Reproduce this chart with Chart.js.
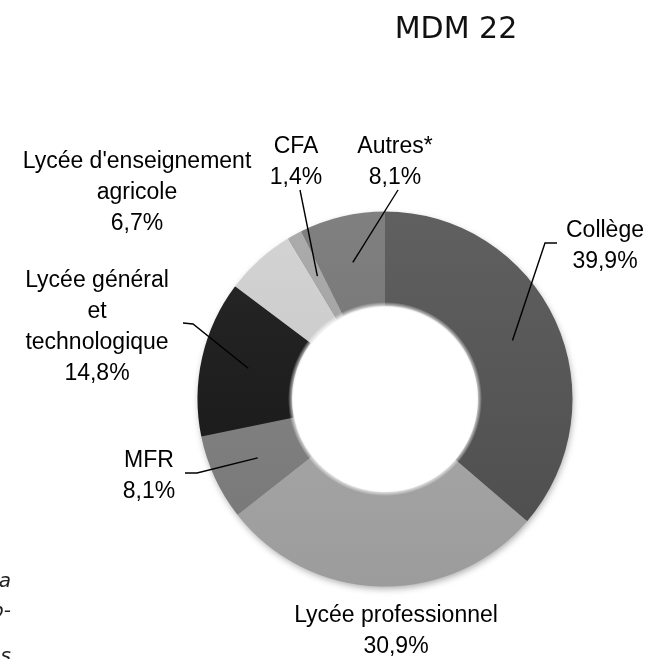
<!DOCTYPE html>
<html>
<head>
<meta charset="utf-8">
<script src="https://cdn.jsdelivr.net/npm/chart.js@4.4.0/dist/chart.umd.min.js"></script>
<style>
  html, body { margin: 0; padding: 0; background: #ffffff; }
  #wrap { width: 651px; height: 659px; position: relative; overflow: hidden; }
  canvas { display: block; }
</style>
</head>
<body>
<div id="wrap"><canvas id="c" width="651" height="659"></canvas></div>
<script>
// ---- data ----
const chartTitle = 'MDM 22';
const categories = ['Collège', 'Lycée professionnel', 'MFR', 'Lycée général et technologique', "Lycée d'enseignement agricole", 'CFA', 'Autres*'];
const values = [39.9, 30.9, 8.1, 14.8, 6.7, 1.4, 8.1];
const valueLabels = ['39,9%', '30,9%', '8,1%', '14,8%', '6,7%', '1,4%', '8,1%'];
const labelLines = [['Collège'], ['Lycée professionnel'], ['MFR'], ['Lycée général', 'et', 'technologique'], ["Lycée d'enseignement", 'agricole'], ['CFA'], ['Autres*']];
const noteFragments = ['a', 'p-', 'es'];

// ---- styles ----
const sliceColors = ['#565656', '#a6a6a6', '#808080', '#1e1e1e', '#cacaca', '#a2a2a2', '#767676'];
const labelFont = '23px "Liberation Sans", Arial, sans-serif';
const lineHeight = 31;

// label layout: centre x, first baseline y, leader elbow points (from slice centroid)
const labelLayout = [
  { x: 605, y: 237, lead: [[545, 243], [557, 243]] },
  { x: 396, y: 622, lead: null },
  { x: 149, y: 467, lead: [[197, 473], [185, 473]] },
  { x: 97,  y: 287, lead: [[193, 324], [183, 323]] },
  { x: 137, y: 168, lead: null },
  { x: 296, y: 153, lead: [[300, 190]] },
  { x: 395, y: 153, lead: [[398, 190]] }
];

function shade(hex, amt) {
  const n = parseInt(hex.slice(1), 16);
  let r = (n >> 16) & 255, g = (n >> 8) & 255, b = n & 255;
  r = Math.max(0, Math.min(255, r + amt));
  g = Math.max(0, Math.min(255, g + amt));
  b = Math.max(0, Math.min(255, b + amt));
  return 'rgb(' + r + ',' + g + ',' + b + ')';
}

function sliceFill(context) {
  const chart = context.chart;
  const area = chart.chartArea;
  const base = sliceColors[context.dataIndex];
  if (!area) return base;
  const g = chart.ctx.createLinearGradient(0, area.top, 0, area.bottom);
  g.addColorStop(0, shade(base, 10));
  g.addColorStop(1, shade(base, -10));
  return g;
}

const ringShadow = {
  id: 'ringShadow',
  beforeDatasetsDraw(chart) {
    const arc = chart.getDatasetMeta(0).data[0];
    if (!arc) return;
    const ctx = chart.ctx;
    ctx.save();
    ctx.beginPath();
    ctx.arc(arc.x, arc.y, arc.outerRadius - 1, 0, Math.PI * 2);
    ctx.arc(arc.x, arc.y, arc.innerRadius + 1, 0, Math.PI * 2, true);
    ctx.closePath();
    ctx.shadowColor = 'rgba(0,0,0,0.35)';
    ctx.shadowBlur = 7;
    ctx.shadowOffsetX = 1;
    ctx.shadowOffsetY = 3;
    ctx.fillStyle = '#777';
    ctx.fill();
    ctx.restore();
  },
  afterDatasetsDraw(chart) {
    const arc = chart.getDatasetMeta(0).data[0];
    if (!arc) return;
    const ctx = chart.ctx;
    const r = arc.innerRadius;
    ctx.save();
    const g = ctx.createRadialGradient(arc.x, arc.y, r - 2, arc.x, arc.y, r + 4);
    g.addColorStop(0, 'rgba(255,255,255,1)');
    g.addColorStop(1, 'rgba(255,255,255,0)');
    ctx.beginPath();
    ctx.arc(arc.x, arc.y, r + 4, 0, Math.PI * 2);
    ctx.fillStyle = g;
    ctx.fill();
    ctx.restore();
  }
};

const labelsPlugin = {
  id: 'labelsPlugin',
  afterDraw(chart) {
    const ctx = chart.ctx;
    const meta = chart.getDatasetMeta(0);
    ctx.save();
    // title
    ctx.font = '30px "DejaVu Sans", sans-serif';
    ctx.fillStyle = '#111';
    ctx.textAlign = 'center';
    ctx.textBaseline = 'alphabetic';
    ctx.fillText(chartTitle, 456, 38);

    // leader lines
    ctx.strokeStyle = '#000';
    ctx.lineWidth = 1.4;
    meta.data.forEach((el, i) => {
      const lay = labelLayout[i];
      if (!lay.lead) return;
      const p = el.tooltipPosition();
      ctx.beginPath();
      ctx.moveTo(p.x, p.y);
      lay.lead.forEach(pt => ctx.lineTo(pt[0], pt[1]));
      ctx.stroke();
    });

    // labels
    ctx.font = labelFont;
    ctx.fillStyle = '#000';
    ctx.textAlign = 'center';
    categories.forEach((c, i) => {
      const lay = labelLayout[i];
      const lines = labelLines[i].concat([valueLabels[i]]);
      lines.forEach((t, k) => ctx.fillText(t, lay.x, lay.y + k * lineHeight));
    });

    // cut-off italic note fragments at left edge
    ctx.font = 'italic 20px "DejaVu Sans", sans-serif';
    ctx.fillStyle = '#222';
    ctx.textAlign = 'right';
    const noteY = [587, 617, 662];
    noteFragments.forEach((t, k) => ctx.fillText(t, 11, noteY[k]));
    ctx.restore();
  }
};

new Chart(document.getElementById('c'), {
  type: 'doughnut',
  data: {
    labels: categories,
    datasets: [{
      data: values,
      backgroundColor: sliceFill,
      borderWidth: 0,
      hoverOffset: 0
    }]
  },
  options: {
    responsive: false,
    animation: false,
    devicePixelRatio: 1,
    cutout: '49.6%',
    rotation: 0,
    layout: { padding: { left: 197.5, right: 78.5, top: 211.5, bottom: 72.5 } },
    plugins: {
      legend: { display: false },
      tooltip: { enabled: false },
      title: { display: false }
    }
  },
  plugins: [ringShadow, labelsPlugin]
});
</script>
</body>
</html>
